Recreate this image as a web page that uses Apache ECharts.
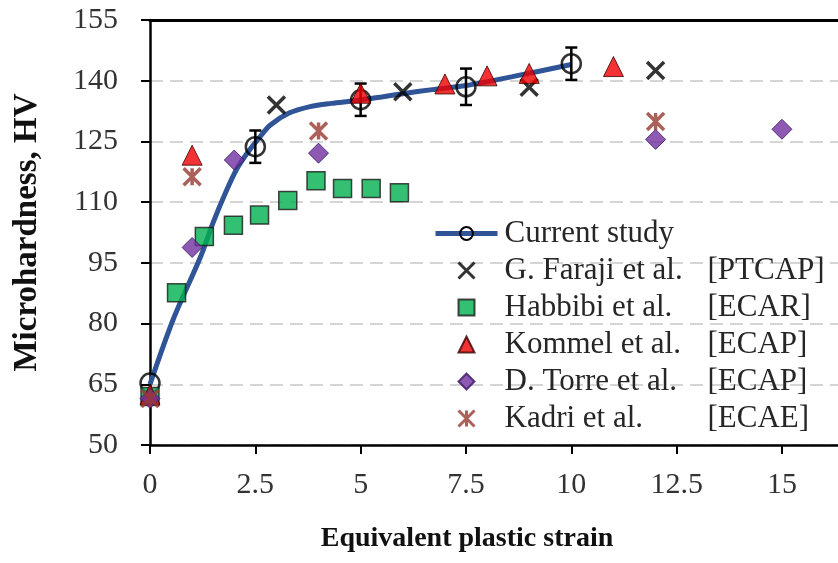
<!DOCTYPE html>
<html><head><meta charset="utf-8">
<script src="https://cdn.jsdelivr.net/npm/echarts@6/dist/echarts.min.js"></script>
<style>html,body{margin:0;padding:0;background:#fff}#c{width:838px;height:563px}</style>
</head><body><div id="c"></div>
<script>
// ---- data ----
const xTickValues = [0, 2.5, 5, 7.5, 10, 12.5, 15];
const yTickValues = [50, 65, 80, 95, 110, 125, 140, 155];

const currentStrain = [0, 2.5, 5, 7.5, 10];
const currentHV = [65.3, 123.7, 135.3, 138.5, 144.2];
const currentErr = [0, 4, 4, 4.5, 4];

const fitStrain = [0, 0.55, 1.2, 1.5, 1.8, 2.05, 2.3, 2.6, 2.85, 3.3, 3.8, 4.3, 4.9, 5.5, 6.0, 6.7, 7.5, 8.6, 10];
const fitHV = [65, 81, 96.5, 105, 112.5, 118, 122, 126, 129, 132, 133.6, 134.4, 135.1, 136, 136.8, 137.8, 138.8, 141, 144];

const farajiStrain = [3, 6, 9, 12];
const farajiHV = [134, 137.3, 138.4, 142.5];

const habbibiStrain = [0, 0.63, 1.29, 1.98, 2.6, 3.27, 3.94, 4.57, 5.25, 5.92];
const habbibiHV = [62, 87.6, 101.5, 104.3, 106.8, 110.4, 115.3, 113.4, 113.4, 112.3];

const kommelStrain = [0, 1, 5, 7, 8, 9, 11];
const kommelHV = [62.5, 121.6, 136.9, 139.2, 141.2, 141.8, 143.5];

const torreStrain = [0, 1, 2, 4, 12, 15];
const torreHV = [61.5, 98.8, 120.4, 122.1, 125.5, 128];

const kadriStrain = [0, 1, 4, 12];
const kadriHV = [61.5, 116.3, 127.6, 129.9];

const seriesNames = ['Current study', 'G. Faraji et al. [PTCAP]', 'Habbibi et al. [ECAR]',
  'Kommel et al. [ECAP]', 'D. Torre et al. [ECAP]', 'Kadri et al. [ECAE]'];

// ---- build ----
const pairs = (xs, ys) => xs.map((x, i) => [x, ys[i]]);
const FONT = 'Liberation Serif';
const xMax = 16.33;

const SYM_X = 'path://M0,0L10,10M10,0L0,10';
const SYM_AST = 'path://M0,0L10,10M10,0L0,10M5,0L5,10';
const legendIcons = [null, SYM_X, 'path://M0,0H10V10H0Z', 'path://M5,0L10,10H0Z',
  'path://M5,0L10,5L5,10L0,5Z', SYM_AST];
const legendBorder = [null, 3, null, null, null, 3];

const errData = currentStrain.map((x, i) => [x, currentHV[i] - currentErr[i], currentHV[i] + currentErr[i]])
  .filter((d, i) => currentErr[i] > 0);

function scatter(name, xs, ys, symbol, size, style) {
  return { type: 'scatter', name, data: pairs(xs, ys), symbol, symbolSize: size,
    itemStyle: style, emphasis: { disabled: true }, z: 4 };
}

const chart = echarts.init(document.getElementById('c'), null, { renderer: 'canvas' });
chart.setOption({
  animation: false,
  backgroundColor: '#fff',
  grid: { left: 150, right: 0, top: 20, bottom: 118 },
  legend: {
    orient: 'vertical', left: 428, top: 213,
    itemWidth: 62, itemHeight: 16, itemGap: 6,
    data: seriesNames.map((n, i) => {
      const d = { name: n };
      if (legendIcons[i]) d.icon = legendIcons[i];
      if (legendBorder[i]) d.itemStyle = { borderWidth: legendBorder[i] };
      return d;
    }),
    selectedMode: false,
    lineStyle: { width: 5 },
    formatter: (n) => {
      const k = n.indexOf(' [');
      if (k < 0) return '{a|' + n + '}';
      return '{a|' + n.slice(0, k) + '}{b|' + n.slice(k + 1) + '}';
    },
    textStyle: {
      fontFamily: FONT, fontSize: 31, color: '#262626',
      rich: {
        a: { fontFamily: FONT, fontSize: 31, color: '#262626', width: 203, padding: [0, 0, 0, 2] },
        b: { fontFamily: FONT, fontSize: 31, color: '#262626' }
      }
    }
  },
  xAxis: [{
    type: 'value', min: 0, max: xMax, interval: 2.5,
    axisLine: { show: true, lineStyle: { color: '#000', width: 2.5 } },
    axisTick: { show: true, customValues: xTickValues, length: 9, lineStyle: { color: '#000', width: 2 } },
    axisLabel: { customValues: xTickValues, fontFamily: FONT, fontSize: 30, color: '#333', margin: 25 },
    splitLine: { show: false },
    name: 'Equivalent plastic strain', nameLocation: 'middle', nameGap: 80,
    nameTextStyle: { fontFamily: FONT, fontSize: 28, fontWeight: 'bold', color: '#111', padding: [0, 54, 0, 0] }
  }, {
    type: 'value', min: 0, max: xMax, position: 'top',
    axisLine: { show: true, lineStyle: { color: '#000', width: 3 } },
    axisTick: { show: false }, axisLabel: { show: false }, splitLine: { show: false }
  }],
  yAxis: {
    type: 'value', min: 50, max: 155, interval: 15,
    axisLine: { show: true, lineStyle: { color: '#000', width: 2.5 } },
    axisTick: { show: true, length: 9, lineStyle: { color: '#000', width: 2 } },
    axisLabel: { fontFamily: FONT, fontSize: 30, color: '#333', margin: 32 },
    splitLine: { show: true, lineStyle: { color: '#c8c8c8', width: 1.5, type: [13, 7] } },
    name: 'Microhardness, HV', nameLocation: 'middle', nameGap: 106,
    nameTextStyle: { fontFamily: FONT, fontSize: 33, fontWeight: 'bold', color: '#111' }
  },
  series: [
    { type: 'line', name: seriesNames[0], data: pairs(fitStrain, fitHV), smooth: 0.3,
      symbol: 'circle', showSymbol: false, symbolSize: 20,
      lineStyle: { color: '#2F5597', width: 5 },
      itemStyle: { color: 'rgba(255,255,255,0)', borderColor: '#000', borderWidth: 2.5 },
      emphasis: { disabled: true }, z: 2 },
    { type: 'scatter', name: 'Current study points', data: pairs(currentStrain, currentHV),
      symbol: 'circle', symbolSize: 19,
      itemStyle: { color: 'rgba(255,255,255,0)', borderColor: '#000', borderWidth: 2.5 },
      emphasis: { disabled: true }, z: 3 },
    { type: 'custom', name: 'Current study error', data: errData, z: 3,
      encode: { x: 0, y: [1, 2] },
      renderItem: (params, api) => {
        const x = api.value(0);
        const p1 = api.coord([x, api.value(1)]);
        const p2 = api.coord([x, api.value(2)]);
        const hw = 6, st = { stroke: '#000', lineWidth: 2.5 };
        return { type: 'group', children: [
          { type: 'line', shape: { x1: p1[0], y1: p1[1], x2: p2[0], y2: p2[1] }, style: st },
          { type: 'line', shape: { x1: p1[0] - hw, y1: p1[1], x2: p1[0] + hw, y2: p1[1] }, style: st },
          { type: 'line', shape: { x1: p2[0] - hw, y1: p2[1], x2: p2[0] + hw, y2: p2[1] }, style: st }
        ] };
      } },
    scatter(seriesNames[1], farajiStrain, farajiHV, SYM_X, 17,
      { color: 'rgba(0,0,0,0)', borderColor: '#000', borderWidth: 3.5 }),
    scatter(seriesNames[2], habbibiStrain, habbibiHV, 'rect', 18,
      { color: '#00B050', borderColor: '#1a1a1a', borderWidth: 1.5 }),
    scatter(seriesNames[3], kommelStrain, kommelHV, 'triangle', 20,
      { color: '#F00000', borderColor: '#3a0000', borderWidth: 1 }),
    scatter(seriesNames[4], torreStrain, torreHV, 'diamond', 20,
      { color: '#7030A0', borderColor: '#3a1660', borderWidth: 1 }),
    scatter(seriesNames[5], kadriStrain, kadriHV, SYM_AST, 17,
      { color: 'rgba(0,0,0,0)', borderColor: '#963A30', borderWidth: 3.5 })
  ]
});
</script>
</body></html>
